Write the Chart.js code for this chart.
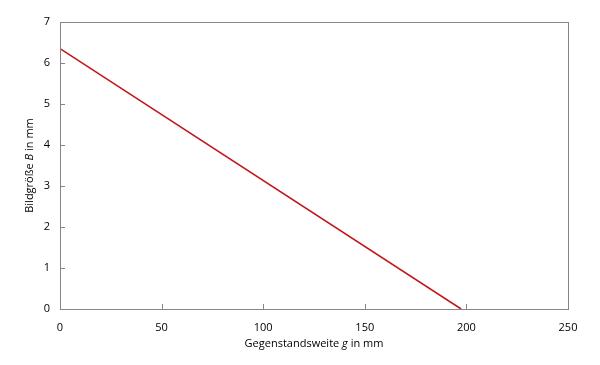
<!DOCTYPE html>
<html>
<head>
<meta charset="utf-8">
<script src="https://cdn.jsdelivr.net/npm/chart.js@4"></script>
<style>
  html, body { margin: 0; padding: 0; background: #fff; }
  #wrap { width: 600px; height: 365px; }
</style>
</head>
<body>
<div id="wrap"><canvas id="c"></canvas></div>
<script>
// data
const gValues = [0, 197.4];      // Gegenstandsweite g in mm
const bValues = [6.35, 0];       // Bildgröße B in mm
const xTicks = [0, 50, 100, 150, 200, 250];
const yTicks = [0, 1, 2, 3, 4, 5, 6, 7];

const FONT = '"Open Sans", sans-serif';
const axisGray = '#868686';

// draw the frame, inward tick marks and mixed-style axis titles
const framePlugin = {
  id: 'frame',
  afterDraw(chart) {
    const { ctx, chartArea: a, scales: { x, y } } = chart;
    ctx.save();
    ctx.strokeStyle = axisGray;
    ctx.lineWidth = 1;
    ctx.strokeRect(Math.round(a.left) + 0.5, Math.round(a.top) + 0.5,
      Math.round(a.right - a.left), Math.round(a.bottom - a.top));
    ctx.beginPath();
    yTicks.forEach(v => {
      const py = Math.round(y.getPixelForValue(v)) + 0.5;
      ctx.moveTo(a.left, py); ctx.lineTo(a.left + 5, py);
    });
    xTicks.forEach(v => {
      const px = Math.round(x.getPixelForValue(v)) + 0.5;
      ctx.moveTo(px, a.bottom); ctx.lineTo(px, a.bottom - 5);
    });
    ctx.stroke();

    // titles with one italic letter
    function mixed(parts, cx, cy) {
      let w = 0;
      parts.forEach(p => { ctx.font = (p[1] ? 'italic ' : '') + '11px ' + FONT; w += ctx.measureText(p[0]).width; });
      let px = cx - w / 2;
      parts.forEach(p => {
        ctx.font = (p[1] ? 'italic ' : '') + '11px ' + FONT;
        ctx.fillText(p[0], px, cy);
        px += ctx.measureText(p[0]).width;
      });
    }
    ctx.fillStyle = '#000';
    ctx.textBaseline = 'middle';
    ctx.textAlign = 'left';
    mixed([['Gegenstandsweite ', false], ['g', true], [' in mm', false]], (a.left + a.right) / 2, 344);
    ctx.translate(30, (a.top + a.bottom) / 2);
    ctx.rotate(-Math.PI / 2);
    mixed([['Bildgröße ', false], ['B', true], [' in mm', false]], 0, 0);
    ctx.restore();
  }
};

new Chart(document.getElementById('c'), {
  type: 'scatter',
  data: {
    datasets: [{
      data: gValues.map((g, i) => ({ x: g, y: bValues[i] })),
      showLine: true,
      borderColor: '#C0161C',
      borderWidth: 1.6,
      pointRadius: 0,
      fill: false
    }]
  },
  options: {
    responsive: true,
    maintainAspectRatio: false,
    animation: false,
    layout: { padding: { top: 22, right: 32, left: 0, bottom: 0 } },
    plugins: { legend: { display: false }, tooltip: { enabled: false } },
    scales: {
      x: {
        type: 'linear', min: 0, max: 250,
        afterBuildTicks: s => { s.ticks = xTicks.map(v => ({ value: v })); },
        afterFit: s => { s.height = 56; },
        grid: { display: false },
        border: { display: false },
        ticks: { color: '#000', font: { family: FONT, size: 11 }, padding: 4, maxRotation: 0 }
      },
      y: {
        min: 0, max: 7,
        afterBuildTicks: s => { s.ticks = yTicks.map(v => ({ value: v })); },
        afterFit: s => { s.width = 60; },
        grid: { display: false },
        border: { display: false },
        ticks: { color: '#000', font: { family: FONT, size: 11 }, padding: 2 }
      }
    }
  },
  plugins: [framePlugin]
});
</script>
</body>
</html>
